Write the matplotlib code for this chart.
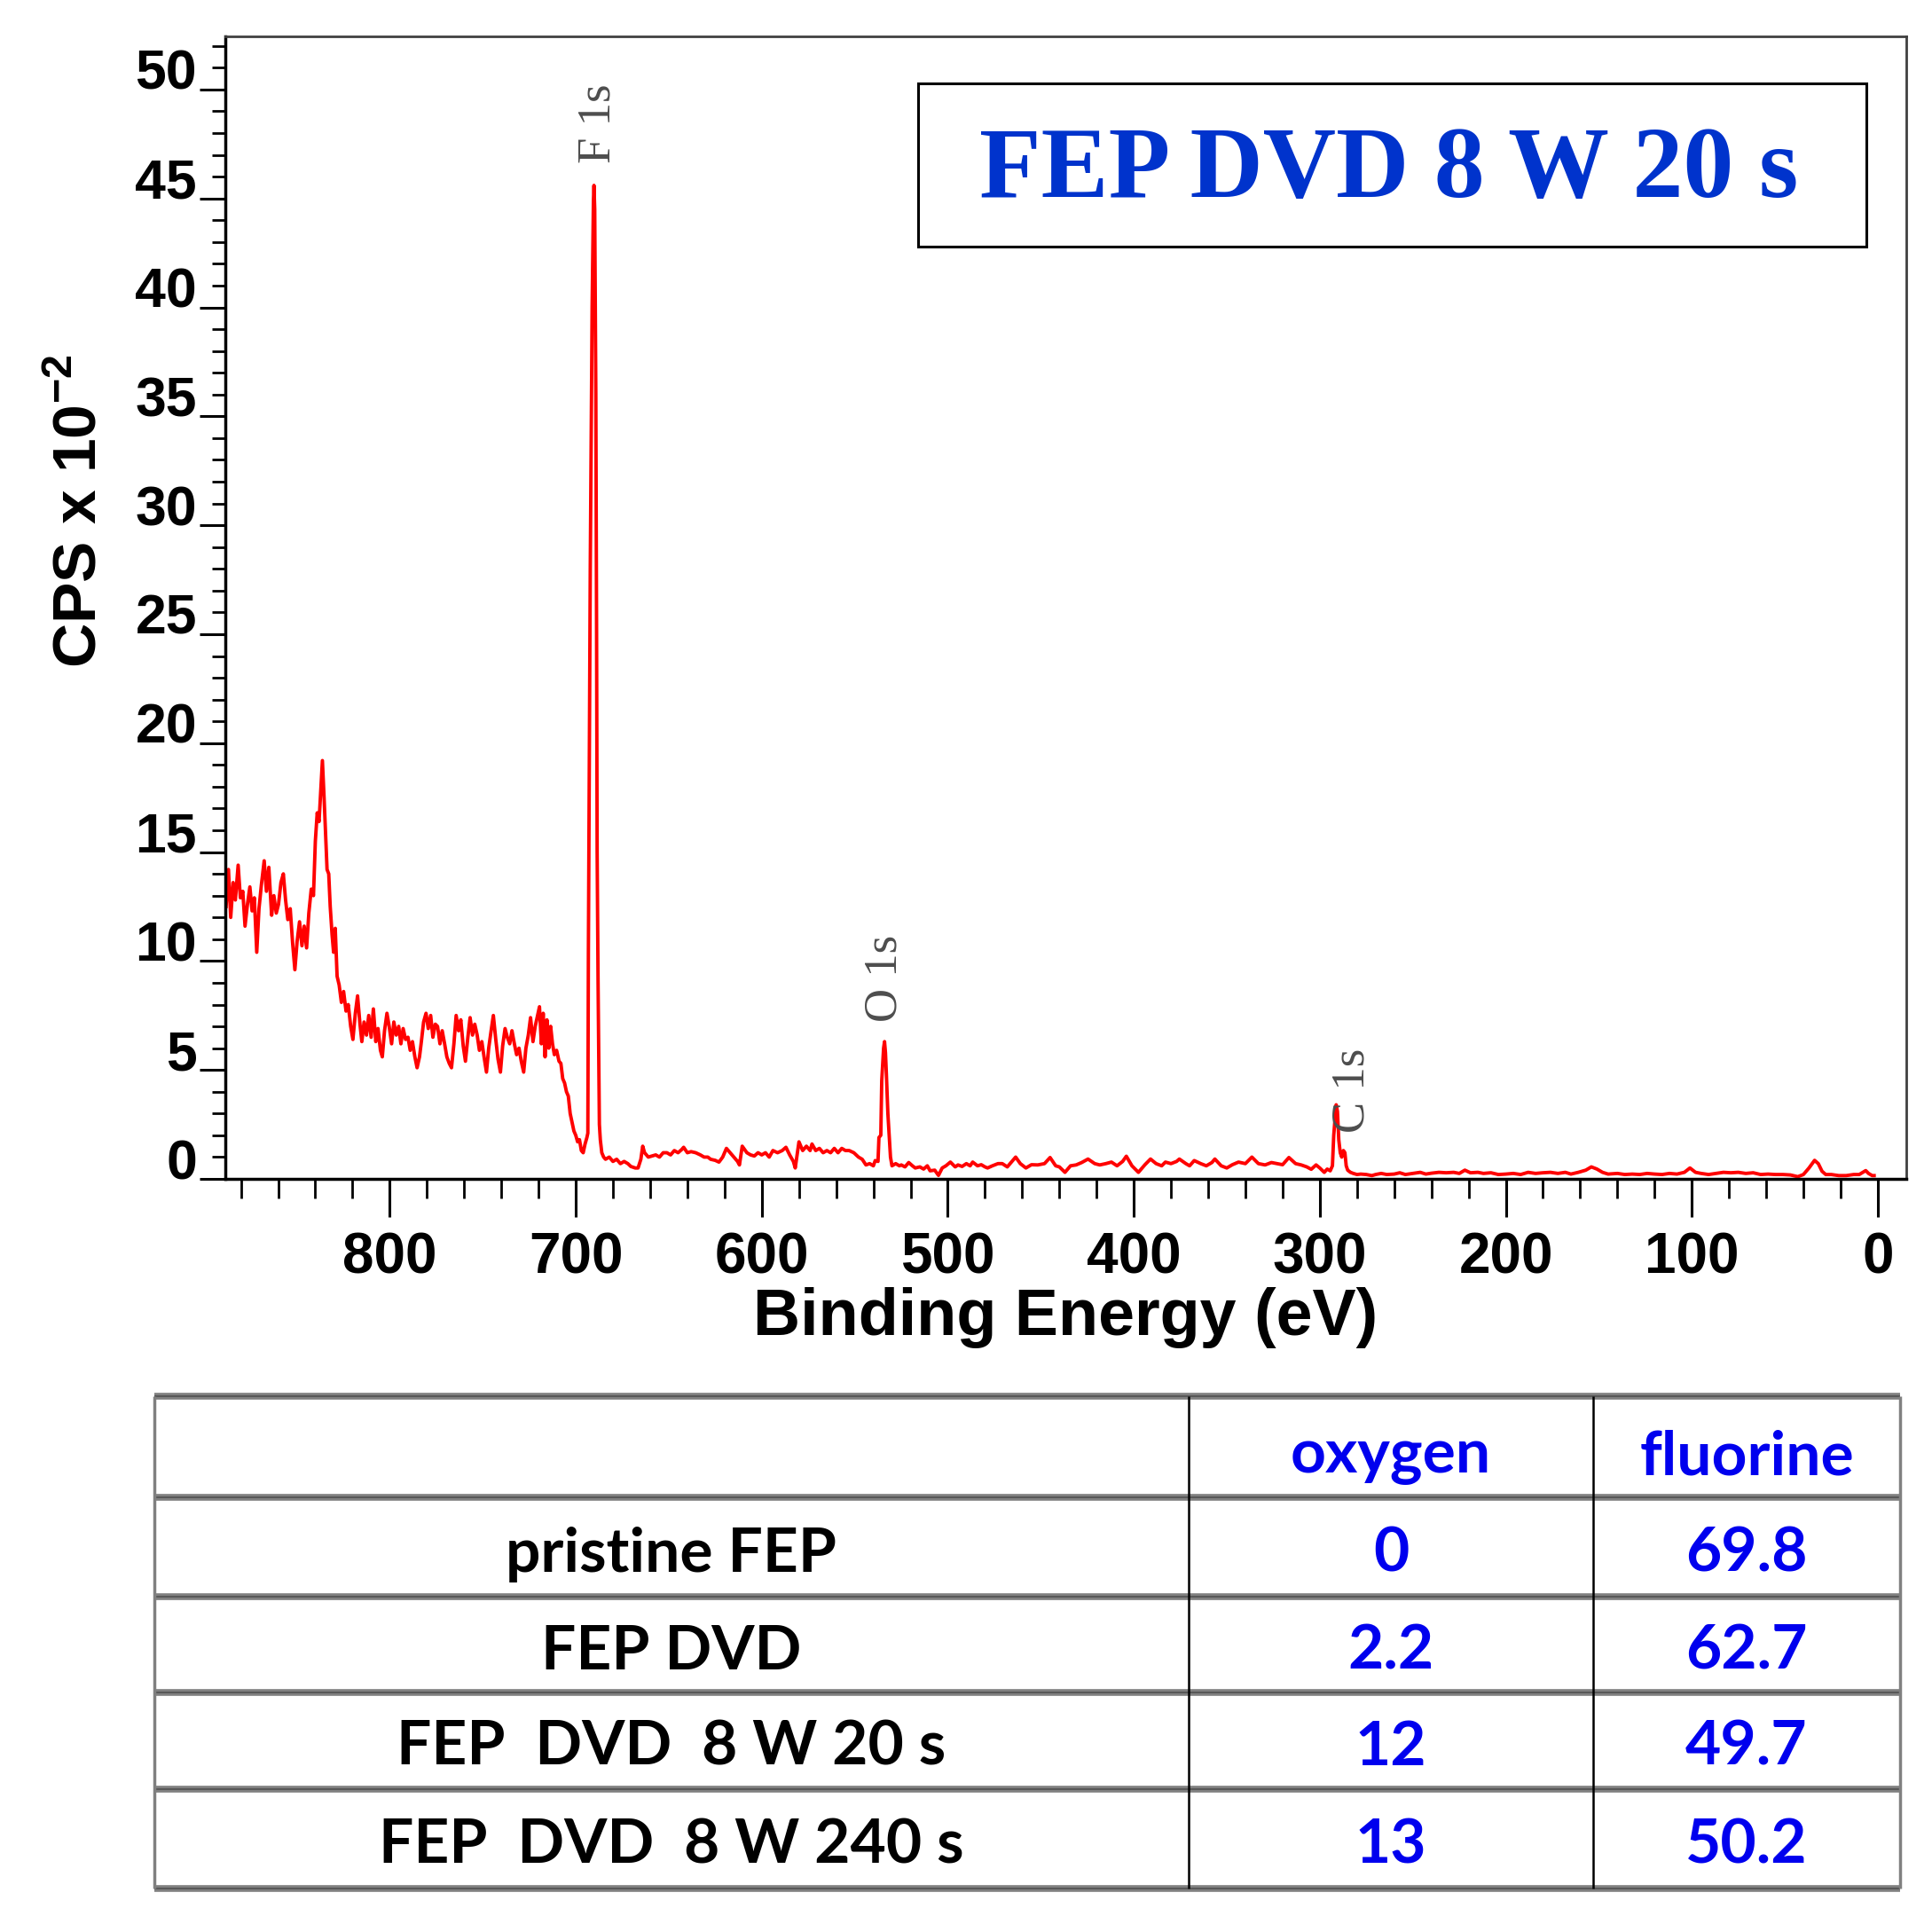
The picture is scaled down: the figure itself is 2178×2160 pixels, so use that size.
import matplotlib
matplotlib.use("Agg")
import matplotlib.pyplot as plt
from matplotlib.patches import Rectangle
from matplotlib.ticker import MultipleLocator

plt.rcParams['font.family'] = ['Liberation Sans', 'DejaVu Sans']
plt.rcParams['mathtext.fontset'] = 'custom'
plt.rcParams['mathtext.rm'] = 'Liberation Sans'
plt.rcParams['mathtext.bf'] = 'Liberation Sans:bold'

# XPS survey spectrum (binding energy in eV, CPS x 1e-2)
energy_ev = [
    888, 886.7, 885.5, 884.2, 883, 881.5, 880.3, 879, 877.8, 876.5,
    875.2, 874, 872.8, 871.5, 870.3, 869, 867.5, 866.3, 865, 863.5,
    862.3, 861, 859.8, 858.5, 857.2, 856, 854.8, 853.5, 852.2, 851,
    849.8, 848.5, 847.2, 846, 844.7, 843.5, 842.2, 841, 840, 839,
    838, 837, 836.2, 835.3, 834.5, 833.7, 832.8, 832, 831, 830.2,
    829.3, 828.3, 827.2, 826, 824.8, 823.5, 822.3, 821, 819.8, 818.5,
    817.3, 816, 815, 813.8, 812.5, 811.3, 810, 808.8, 807.5, 806.3,
    805, 804, 802.8, 801.5, 800.3, 799, 797.8, 796.5, 795.2, 794,
    792.8, 791.5, 790.2, 789, 787.8, 786.5, 785.3, 784, 783, 781.8,
    780.5, 779.3, 778, 776.8, 775.5, 774.3, 773, 771.8, 770.5, 769.3,
    768, 766.8, 765.5, 764.3, 763, 761.8, 760.5, 759.3, 758, 756.8,
    755.5, 754.3, 753, 751.8, 750.5, 749.3, 748, 746.8, 745.5, 744.3,
    743, 741.8, 740.5, 739.3, 738, 736.8, 735.5, 734.3, 733, 731.8,
    730.5, 729.3, 728, 726.8, 725.5, 724.3, 723, 721.8, 720.5, 719.5,
    718.5, 717.5, 716.5, 715.5, 714.5, 713.5, 712.5, 711.5, 710.3, 709,
    708, 707, 706, 705, 704, 703, 702, 701, 700, 699,
    698, 697, 696, 695, 694, 693.5, 693.2, 692.2, 691.2, 690.5,
    690.2, 689.8, 689.2, 688.8, 688.5, 688, 687.3, 686.8, 686, 685,
    684, 682, 680, 678, 676, 674, 672, 670.4, 668, 666.5,
    665, 664, 663, 661, 659, 657, 655, 653, 651, 649,
    647, 645, 643, 642, 640, 638, 635.5, 633, 631, 629,
    627.5, 625, 623, 621, 619, 617, 615, 613, 612, 610.5,
    608, 606, 604, 602, 600, 598, 596, 594, 591.5, 589,
    587, 585, 583, 582, 580, 578, 576, 574, 573, 571,
    569, 567, 565, 563, 561, 559, 557, 555, 553, 550.5,
    548, 546, 544, 542, 540, 539, 537.5, 537, 536, 535.5,
    534.5, 534, 533.5, 533, 532.2, 531.5, 530.8, 530, 528, 526,
    525, 523, 521, 519, 517.5, 515, 513, 511, 509.5, 507,
    505, 503, 501, 498.6, 496, 494.5, 492.3, 490, 488, 486.6,
    484, 482, 480, 478.6, 476, 473, 470.7, 468, 466, 463.5,
    461, 458, 455, 451.6, 448, 445, 442, 440, 437, 434,
    431, 428, 424.6, 421, 418.3, 415, 412, 409, 406, 404,
    401, 397.5, 394, 391, 388, 385, 383, 380, 377, 375.5,
    372, 370, 367.5, 364, 361, 358, 356.4, 353, 350, 347,
    343.7, 340, 336.5, 333, 329.4, 326, 323, 320, 316.6, 313,
    310, 307, 304.6, 302, 300, 297.6, 296, 294.4, 293.2, 292.5,
    291.2, 290.5, 289.8, 289, 288.2, 287.3, 286.5, 285.8, 285, 283.5,
    282, 280, 278, 275, 272, 270, 267, 264, 260, 257,
    254, 250, 246, 243, 240, 236, 232, 228, 225, 222,
    219, 215, 212, 208, 204, 200, 196, 192, 188, 184,
    180, 176, 172, 168, 165, 161, 157, 154, 151, 148,
    145, 140, 136, 132, 128, 124, 120, 116, 112, 108,
    104, 101, 98, 95, 91, 87, 83, 79, 75, 71,
    67, 63, 59, 55, 51, 47, 43, 40, 37, 34,
    32, 30, 28, 25, 21, 17, 13, 10, 8, 6.5,
    5, 3, 2,
]
cps = [
    12.5, 14.2, 12.0, 13.6, 12.8, 14.4, 12.9, 13.2, 11.6, 12.6,
    13.4, 12.3, 12.9, 10.4, 12.4, 13.5, 14.6, 13.2, 14.3, 12.1,
    13.0, 12.2, 12.6, 13.6, 14.0, 12.8, 11.9, 12.4, 10.8, 9.6,
    10.9, 11.8, 10.7, 11.6, 10.6, 12.2, 13.3, 13.0, 15.5, 16.8,
    16.4, 18.0, 19.2, 17.5, 15.8, 14.2, 14.0, 12.5, 11.2, 10.4,
    11.5, 9.3, 8.9, 8.1, 8.6, 7.7, 8.0, 7.0, 6.4, 7.6,
    8.4, 7.1, 6.3, 7.2, 6.6, 7.5, 6.5, 7.8, 6.3, 6.9,
    5.9, 5.6, 6.8, 7.6, 7.0, 6.2, 7.2, 6.6, 7.0, 6.2,
    6.9, 6.4, 6.5, 5.9, 6.3, 5.6, 5.1, 5.6, 6.3, 7.2,
    7.6, 6.9, 7.5, 6.5, 7.1, 7.0, 6.2, 6.8, 6.2, 5.6,
    5.3, 5.1, 6.2, 7.5, 6.8, 7.3, 6.1, 5.4, 6.5, 7.4,
    6.6, 7.1, 6.6, 5.9, 6.3, 5.6, 4.9, 6.0, 6.8, 7.5,
    6.4, 5.5, 4.9, 6.1, 6.9, 6.5, 6.2, 6.8, 6.2, 5.7,
    6.0, 5.4, 4.9, 6.0, 6.6, 7.4, 6.3, 7.0, 7.5, 7.9,
    6.2, 7.6, 5.6, 7.3, 6.0, 7.0, 6.2, 5.7, 5.9, 5.4,
    5.3, 4.6, 4.4, 4.0, 3.8, 3.0, 2.6, 2.2, 2.0, 1.7,
    1.8, 1.3, 1.2, 1.6, 1.9, 2.1, 10.5, 28.0, 40.0, 44.9,
    45.6, 44.5, 36.0, 25.0, 15.0, 9.0, 2.5, 1.8, 1.2, 1.0,
    0.9, 1.0, 0.8, 0.9, 0.7, 0.8, 0.7, 0.57, 0.5, 0.5,
    0.9, 1.5, 1.2, 1.0, 1.05, 1.1, 1.0, 1.2, 1.2, 1.1,
    1.3, 1.2, 1.35, 1.45, 1.2, 1.25, 1.2, 1.1, 1.0, 1.0,
    0.9, 0.85, 0.77, 1.0, 1.4, 1.2, 1.0, 0.8, 0.64, 1.5,
    1.2, 1.1, 1.05, 1.2, 1.1, 1.2, 1.0, 1.3, 1.2, 1.3,
    1.45, 1.1, 0.8, 0.5, 1.7, 1.3, 1.5, 1.3, 1.6, 1.3,
    1.4, 1.2, 1.3, 1.2, 1.4, 1.2, 1.4, 1.3, 1.3, 1.2,
    1.0, 0.9, 0.64, 0.7, 0.6, 0.84, 0.8, 1.9, 2.0, 4.5,
    6.0, 6.3, 5.8, 4.8, 3.0, 2.0, 1.0, 0.6, 0.7, 0.6,
    0.64, 0.55, 0.75, 0.6, 0.5, 0.55, 0.45, 0.6, 0.37, 0.4,
    0.16, 0.5, 0.6, 0.77, 0.55, 0.64, 0.57, 0.7, 0.6, 0.77,
    0.6, 0.65, 0.55, 0.5, 0.6, 0.7, 0.7, 0.55, 0.75, 1.0,
    0.7, 0.5, 0.65, 0.64, 0.7, 0.98, 0.6, 0.55, 0.3, 0.6,
    0.64, 0.75, 0.91, 0.7, 0.64, 0.7, 0.77, 0.6, 0.8, 1.04,
    0.6, 0.3, 0.65, 0.91, 0.7, 0.6, 0.77, 0.7, 0.8, 0.91,
    0.7, 0.6, 0.84, 0.7, 0.6, 0.75, 0.91, 0.6, 0.5, 0.65,
    0.77, 0.7, 1.0, 0.7, 0.64, 0.75, 0.7, 0.65, 0.98, 0.7,
    0.64, 0.55, 0.44, 0.64, 0.5, 0.3, 0.45, 0.37, 0.6, 2.0,
    3.4, 3.1, 1.8, 1.2, 1.0, 1.3, 1.2, 0.6, 0.4, 0.3,
    0.25, 0.2, 0.22, 0.2, 0.15, 0.2, 0.25, 0.2, 0.22, 0.28,
    0.2, 0.25, 0.3, 0.22, 0.26, 0.3, 0.28, 0.3, 0.25, 0.4,
    0.28, 0.3, 0.25, 0.28, 0.2, 0.22, 0.25, 0.2, 0.3, 0.25,
    0.28, 0.3, 0.25, 0.3, 0.22, 0.3, 0.4, 0.55, 0.45, 0.3,
    0.22, 0.25, 0.2, 0.22, 0.2, 0.25, 0.22, 0.2, 0.25, 0.22,
    0.3, 0.5, 0.3, 0.25, 0.2, 0.25, 0.3, 0.28, 0.3, 0.25,
    0.28, 0.2, 0.22, 0.2, 0.2, 0.18, 0.1, 0.2, 0.5, 0.85,
    0.7, 0.35, 0.2, 0.2, 0.15, 0.15, 0.2, 0.2, 0.3, 0.38,
    0.25, 0.15, 0.15,
]

# peak labels
peak_names = ['F 1s', 'O 1s', 'C 1s']
peak_energy = [688, 534, 282.3]
peak_label_y = [46.6, 7.2, 2.1]

# atomic composition table
samples = ['pristine FEP', 'FEP DVD', 'FEP  DVD  8 W 20 s', 'FEP  DVD  8 W 240 s']
oxygen = [0, 2.2, 12, 13]
fluorine = [69.8, 62.7, 49.7, 50.2]

W, H = 2178, 2160
fig = plt.figure(figsize=(W / 100, H / 100), dpi=100)

# ---- spectrum ----
ax = fig.add_axes([254 / W, 1 - 1329 / H, (2149 - 254) / W, (1329 - 41) / H])
ax.plot(energy_ev, cps, color='#ff0000', lw=2.8)
ax.set_xlim(888.4, -15.3)
ax.set_ylim(0, 52.44)

ax.xaxis.set_major_locator(MultipleLocator(100))
ax.xaxis.set_minor_locator(MultipleLocator(20))
ax.yaxis.set_major_locator(MultipleLocator(5))
ax.yaxis.set_minor_locator(MultipleLocator(1))
ax.tick_params(axis='x', which='major', direction='out', length=31, width=2.2,
               labelsize=46, pad=12, top=False)
ax.tick_params(axis='x', which='minor', direction='out', length=16, width=2.0, top=False)
ax.tick_params(axis='y', which='major', direction='out', length=21, width=2.2,
               labelsize=45, pad=2, right=False)
ax.tick_params(axis='y', which='minor', direction='out', length=11, width=2.0, right=False)
for lbl in ax.get_xticklabels() + ax.get_yticklabels():
    lbl.set_fontweight('bold')
for lbl in ax.get_yticklabels():
    lbl.set_verticalalignment('baseline')

for side in ['left', 'bottom']:
    ax.spines[side].set_linewidth(2.5)
    ax.spines[side].set_color('black')
for side in ['top', 'right']:
    ax.spines[side].set_linewidth(2.0)
    ax.spines[side].set_color('#404040')

for name, e, y in zip(peak_names, peak_energy, peak_label_y):
    ax.text(e, y, name, rotation=90, ha='center', va='bottom', fontsize=38,
            family='Liberation Serif', color='#4d4d4d')

ax.add_patch(Rectangle((0.412, 0.816), 0.564, 0.143, transform=ax.transAxes,
                       fill=False, lw=2.2, ec='black'))
ax.text(0.692, 0.881, 'FEP DVD 8 W 20 s', transform=ax.transAxes, ha='center',
        va='center', fontsize=82, fontweight='bold', family='Liberation Serif',
        color='#0033cc')

fig.text(1201 / W, 1 - 1485 / H, 'Binding Energy (eV)', ha='center', va='center',
         fontsize=53, fontweight='bold')
fig.text(90 / W, 1 - 576 / H, r'CPS x 10$^{\mathbf{-2}}$', rotation=90, ha='center',
         va='center', fontsize=50, fontweight='bold')

# ---- table ----
row_edges = [1574, 1688, 1800, 1908, 2017, 2129]
col_edges = [174, 1340, 1796, 2142]
tax = fig.add_axes([174 / W, 1 - 2129 / H, (2142 - 174) / W, (2129 - 1574) / H])
tax.set_xlim(174, 2142)
tax.set_ylim(2129, 1574)
tax.axis('off')
tax.hlines(row_edges, col_edges[0], col_edges[-1], color='#808080', lw=5.5, clip_on=False)
tax.hlines(row_edges, col_edges[0], col_edges[-1], color='#505050', lw=1.2, clip_on=False)
tax.vlines(col_edges[1:-1], row_edges[0], row_edges[-1], color='black', lw=1.8, clip_on=False)
tax.vlines([col_edges[0], col_edges[-1]], row_edges[0], row_edges[-1], color='#808080',
           lw=2.5, clip_on=False)

tfont = dict(family=['Lato', 'DejaVu Sans'], fontweight='bold', fontsize=50,
             ha='center', va='center')
cx = [(col_edges[i] + col_edges[i + 1]) / 2 for i in range(3)]
cy = [(row_edges[i] + row_edges[i + 1]) / 2 + 8 for i in range(5)]
tax.text(cx[1], cy[0] + 4, 'oxygen', color='#0000ee', **tfont)
tax.text(cx[2], cy[0] + 4, 'fluorine', color='#0000ee', **tfont)
for i, (s, o, f) in enumerate(zip(samples, oxygen, fluorine)):
    tax.text(cx[0], cy[i + 1], s, color='black', **tfont)
    tax.text(cx[1], cy[i + 1], f'{o:g}', color='#0000ee', **tfont)
    tax.text(cx[2], cy[i + 1], f'{f:g}', color='#0000ee', **tfont)

fig.savefig('out.png', dpi=100)
